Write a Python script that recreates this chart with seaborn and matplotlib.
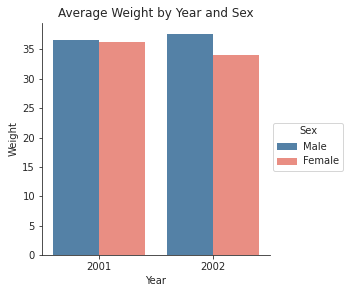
import matplotlib
matplotlib.use("Agg")
import matplotlib.pyplot as plt
import seaborn as sns
import pandas as pd

years = ["2001", "2001", "2002", "2002"]
sexes = ["Male", "Female", "Male", "Female"]
weights = [36.6, 36.3, 37.6, 34.0]

df = pd.DataFrame({"Year": years, "Sex": sexes, "Weight": weights})

sns.set_style("white")
plt.rcParams["font.family"] = ["DejaVu Sans"]

fig = plt.figure(figsize=(347/72, 293/72), dpi=72)
ax = fig.add_axes([42/347, 1-255/293, (270-42)/347, (255-23)/293])
sns.barplot(data=df, x="Year", y="Weight", hue="Sex",
            palette=["steelblue", "salmon"], ax=ax, errorbar=None,
            linewidth=0)
sns.despine(ax=ax)
ax.set_ylim(0, 39.5)
ax.set_title("Average Weight by Year and Sex", fontsize=12)
ax.set_xlabel("Year", fontsize=10)
ax.set_ylabel("Weight", fontsize=10)
ax.tick_params(labelsize=10, direction="out", length=3.5, width=0.8,
               color="#262626", bottom=True, left=True)
for s in ["left", "bottom"]:
    ax.spines[s].set_color("#262626")
ax.get_legend().remove()
h, l = ax.get_legend_handles_labels()
fig.legend(h, l, title="Sex", loc="center left",
           bbox_to_anchor=(268/347, 0.5), fontsize=10, title_fontsize=10,
           handletextpad=0.6, borderpad=0.4)
fig.savefig("out.png", dpi=72)
